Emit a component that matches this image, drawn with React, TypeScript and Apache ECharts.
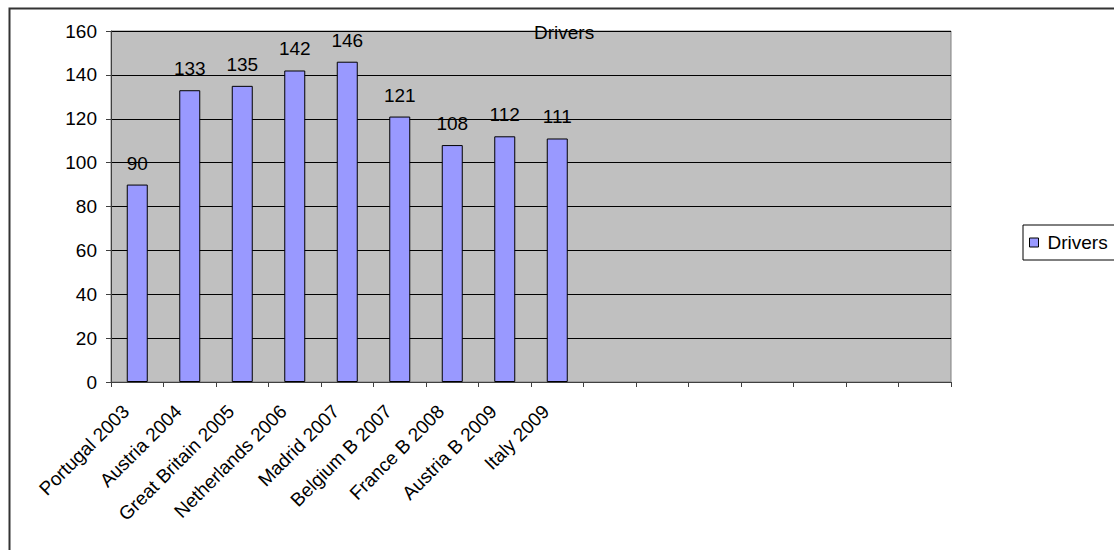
import React, { useEffect, useRef } from "react";
import * as echarts from "echarts";

const categories = [
  "Portugal 2003",
  "Austria 2004",
  "Great Britain 2005",
  "Netherlands 2006",
  "Madrid 2007",
  "Belgium B 2007",
  "France B 2008",
  "Austria B 2009",
  "Italy 2009",
  "", "", "", "", "", "", "",
];
const drivers = [90, 133, 135, 142, 146, 121, 108, 112, 111];
const seriesName = "Drivers";
const yTicks = { min: 0, max: 160, interval: 20 };

const FONT = "'Liberation Sans', Arial, sans-serif";
const FS = 19;

export default function App() {
  const ref = useRef<HTMLDivElement>(null);
  useEffect(() => {
    document.body.style.margin = "0";
    const chart = echarts.init(ref.current!, null, { renderer: "svg" });
    chart.setOption({
      animation: false,
      textStyle: { fontFamily: FONT },
      title: {
        text: seriesName,
        left: 534,
        top: 23,
        padding: 0,
        textStyle: { fontFamily: FONT, fontSize: FS, fontWeight: "normal", color: "#000" },
      },
      legend: {
        data: [seriesName],
        left: 1023,
        top: 225,
        orient: "vertical",
        backgroundColor: "#fff",
        borderColor: "#000",
        borderWidth: 1,
        borderRadius: 0,
        padding: [8, 20, 8, 6],
        itemWidth: 9,
        itemHeight: 9,
        itemGap: 4,
        icon: "rect",
        textStyle: { fontFamily: FONT, fontSize: FS, color: "#000", padding: [0, 0, 0, 4] },
        itemStyle: { borderColor: "#000", borderWidth: 1 },
      },
      graphic: [
        {
          type: "rect",
          left: 7,
          top: 6,
          shape: { width: 1120, height: 560 },
          style: { fill: "none", stroke: "#333", lineWidth: 2 },
          z: -10,
        },
      ],
      grid: {
        left: 111,
        right: 1114 - 951,
        top: 31,
        bottom: 550 - 382,
        show: true,
        backgroundColor: "#C0C0C0",
        borderColor: "#808080",
        borderWidth: 1,
      },
      xAxis: {
        type: "category",
        data: categories,
        axisLine: { show: true, lineStyle: { color: "#404040", width: 1 } },
        axisTick: { show: true, length: 5, lineStyle: { color: "#404040" }, interval: 0 },
        axisLabel: {
          interval: 0,
          rotate: 45,
          fontFamily: FONT,
          fontSize: FS,
          color: "#000",
          margin: 15,
          padding: [0, 16, 0, 0],
        },
      },
      yAxis: {
        type: "value",
        min: yTicks.min,
        max: yTicks.max,
        interval: yTicks.interval,
        axisLine: { show: true, lineStyle: { color: "#404040", width: 1 } },
        axisTick: { show: true, length: 5, lineStyle: { color: "#404040" } },
        splitLine: { show: true, lineStyle: { color: "#000", width: 1 } },
        axisLabel: { fontFamily: FONT, fontSize: FS, color: "#000", margin: 14 },
      },
      series: [
        {
          name: seriesName,
          type: "bar",
          data: drivers,
          barWidth: 21,
          itemStyle: { color: "#9999FF", borderColor: "#000", borderWidth: 1 },
          label: {
            show: true,
            position: "top",
            distance: 12,
            fontFamily: FONT,
            fontSize: FS,
            color: "#000",
          },
        },
      ],
    });
    return () => chart.dispose();
  }, []);
  return <div ref={ref} style={{ width: 1114, height: 550 }} />;
}
